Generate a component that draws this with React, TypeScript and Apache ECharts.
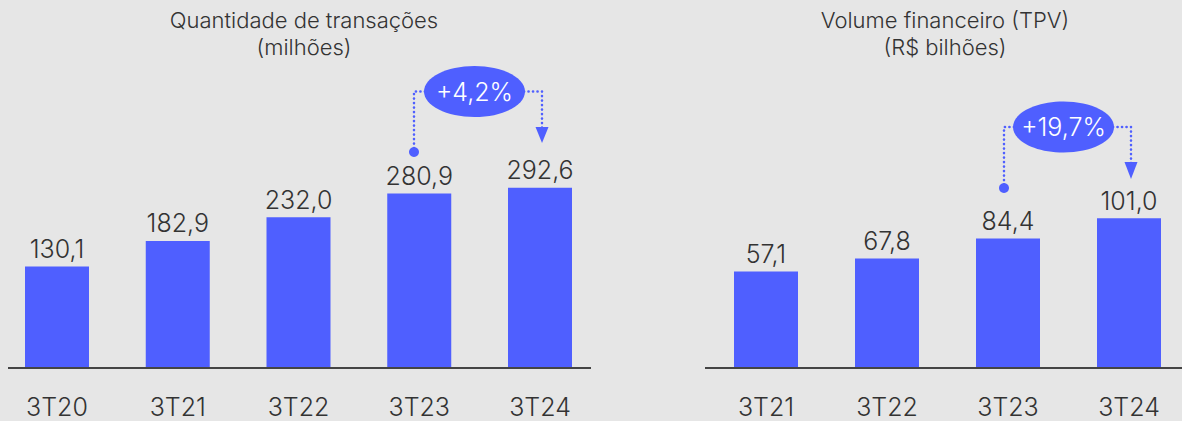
import React, { useEffect, useRef } from "react";
import * as echarts from "echarts";

const leftCategories = ["3T20", "3T21", "3T22", "3T23", "3T24"];
const leftValues = [130.1, 182.9, 232.0, 280.9, 292.6];
const rightCategories = ["3T21", "3T22", "3T23", "3T24"];
const rightValues = [57.1, 67.8, 84.4, 101.0];
const leftTitle = "Quantidade de transações\n(milhões)";
const rightTitle = "Volume financeiro (TPV)\n(R$ bilhões)";
const leftGrowth = "+4,2%";
const rightGrowth = "+19,7%";

const BLUE = "#4f5fff";
const TEXT = "#333333";
const FONT = "Inter";
const WEIGHT = 300;

const fmt = (v: number) => v.toFixed(1).replace(".", ",");

function annotation(
  cx: number,
  cy: number,
  leftX: number,
  dotY: number,
  rightX: number,
  arrowTop: number,
  arrowTip: number,
  label: string
) {
  const dotted = {
    stroke: BLUE,
    lineWidth: 2.6,
    lineDash: [0.1, 4.4],
    lineCap: "round",
    fill: null,
  };
  return [
    {
      type: "polyline",
      shape: { points: [[cx - 45, cy], [leftX, cy], [leftX, dotY]] },
      style: dotted,
      z: 10,
    },
    {
      type: "polyline",
      shape: { points: [[cx + 45, cy], [rightX, cy], [rightX, arrowTop + 2]] },
      style: dotted,
      z: 10,
    },
    {
      type: "circle",
      shape: { cx: leftX, cy: dotY, r: 5 },
      style: { fill: BLUE },
      z: 11,
    },
    {
      type: "polygon",
      shape: {
        points: [
          [rightX - 6.5, arrowTop],
          [rightX + 6.5, arrowTop],
          [rightX, arrowTip],
        ],
      },
      style: { fill: BLUE },
      z: 11,
    },
    {
      type: "ellipse",
      shape: { cx, cy, rx: 50.5, ry: 25.5 },
      style: { fill: BLUE },
      z: 12,
    },
    {
      type: "text",
      x: cx,
      y: cy,
      style: {
        text: label,
        fill: "#ffffff",
        font: `${WEIGHT} 25px '${FONT}'`,
        textAlign: "center",
        textVerticalAlign: "middle",
      },
      z: 13,
    },
  ];
}

export default function App() {
  const ref = useRef<HTMLDivElement>(null);

  useEffect(() => {
    document.body.style.margin = "0";
    document.body.style.background = "#e6e6e6";
    if (!ref.current) return;
    const chart = echarts.init(ref.current, null, { renderer: "svg" });

    const labelCfg = {
      show: true,
      position: "top",
      distance: 5,
      color: TEXT,
      fontSize: 25,
      fontWeight: WEIGHT,
      fontFamily: FONT,
      formatter: (p: any) => fmt(p.value),
    };

    const xAxisCommon = {
      type: "category",
      boundaryGap: false,
      axisLine: { show: false },
      axisTick: { show: false },
      splitLine: { show: false },
      axisLabel: {
        color: TEXT,
        fontSize: 25,
        fontWeight: WEIGHT,
        fontFamily: FONT,
        margin: 26,
      },
    };
    const yAxisCommon = {
      type: "value",
      show: false,
      splitLine: { show: false },
    };

    chart.setOption({
      animation: false,
      backgroundColor: "#e6e6e6",
      textStyle: { fontFamily: FONT },
      grid: [
        { left: 57, width: 483, top: 60, bottom: 53 },
        { left: 766, width: 363, top: 60, bottom: 53 },
      ],
      xAxis: [
        { ...xAxisCommon, gridIndex: 0, data: leftCategories },
        { ...xAxisCommon, gridIndex: 1, data: rightCategories },
      ],
      yAxis: [
        { ...yAxisCommon, gridIndex: 0, min: -79, max: 556, startValue: -79 },
        { ...yAxisCommon, gridIndex: 1, min: -22.3, max: 231.4, startValue: -22.3 },
      ],
      series: [
        {
          type: "bar",
          xAxisIndex: 0,
          yAxisIndex: 0,
          data: leftValues,
          barWidth: 64,
          clip: false,
          itemStyle: { color: BLUE },
          label: labelCfg,
        },
        {
          type: "bar",
          xAxisIndex: 1,
          yAxisIndex: 1,
          data: rightValues,
          barWidth: 64,
          clip: false,
          itemStyle: { color: BLUE },
          label: labelCfg,
        },
      ],
      graphic: [
        {
          type: "line",
          shape: { x1: 8, y1: 368, x2: 591, y2: 368 },
          style: { stroke: "#444444", lineWidth: 2 },
          z: 20,
        },
        {
          type: "line",
          shape: { x1: 705, y1: 368, x2: 1182, y2: 368 },
          style: { stroke: "#444444", lineWidth: 2 },
          z: 20,
        },
        {
          type: "text",
          x: 304,
          y: 6,
          style: {
            text: leftTitle,
            fill: TEXT,
            font: `${WEIGHT} 22px '${FONT}'`,
            lineHeight: 27,
            textAlign: "center",
          },
        },
        {
          type: "text",
          x: 945,
          y: 6,
          style: {
            text: rightTitle,
            fill: TEXT,
            font: `${WEIGHT} 22px '${FONT}'`,
            lineHeight: 27,
            textAlign: "center",
          },
        },
        ...annotation(474.5, 91.5, 414, 152, 542, 127, 143, leftGrowth),
        ...annotation(1063.5, 127, 1004, 188, 1131, 162, 179, rightGrowth),
      ],
    });

    return () => chart.dispose();
  }, []);

  return (
    <div
      ref={ref}
      style={{ position: "absolute", left: 0, top: 0, width: 1182, height: 421 }}
    />
  );
}
